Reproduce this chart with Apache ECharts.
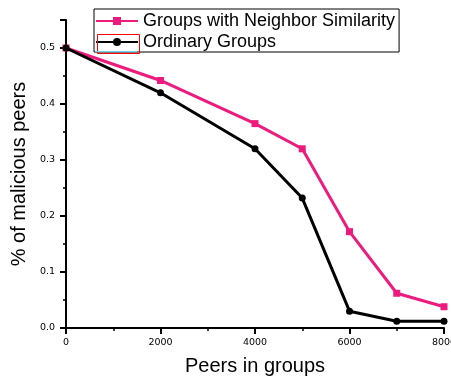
<!DOCTYPE html>
<html><head><meta charset="utf-8">
<script src="https://cdn.jsdelivr.net/npm/echarts@6/dist/echarts.min.js"></script>
<style>html,body{margin:0;padding:0;background:#fff}#c{width:451px;height:379px}</style>
</head><body><div id="c"></div>
<script>
const peers = [0, 2000, 4000, 5000, 6000, 7000, 8000];
const neighborSim = [0.5, 0.442, 0.365, 0.32, 0.172, 0.062, 0.038];
const ordinary = [0.5, 0.42, 0.32, 0.232, 0.03, 0.012, 0.012];
const seriesNames = ['Groups with Neighbor Similarity', 'Ordinary Groups'];
const xTitle = 'Peers in groups';
const yTitle = '% of malicious peers';

const chart = echarts.init(document.getElementById('c'));
const lbl = {color: '#000', fontFamily: 'DejaVu Sans', fontSize: 9.5};
const axisCommon = {
  axisLine: {lineStyle: {color: '#000', width: 2}},
  axisTick: {show: true, inside: false, length: 6, lineStyle: {color: '#000', width: 2}},
  minorTick: {show: true, splitNumber: 2, length: 3, lineStyle: {color: '#000', width: 1.5}},
  splitLine: {show: false},
  minorSplitLine: {show: false}
};
chart.setOption({
  animation: false,
  grid: {left: 66, right: 7, top: 20, bottom: 51, containLabel: false, outerBoundsMode: 'none'},
  legend: {
    orient: 'vertical', left: 94, top: 9, width: 302,
    itemWidth: 42, itemHeight: 10, itemGap: 3,
    borderColor: '#000', borderWidth: 1, padding: [3, 4, 1, 1],
    backgroundColor: '#fff',
    textStyle: {fontFamily: 'Liberation Sans', fontSize: 18, lineHeight: 18, color: '#000', padding: [0, 0, 0, 0]},
    data: seriesNames
  },
  graphic: [
    {type: 'rect', left: 95, top: 32, shape: {width: 42, height: 19}, style: {fill: 'none', stroke: '#ff0000', lineWidth: 1}, z: 100},
    {type: 'line', shape: {x1: 95, y1: 51.5, x2: 137, y2: 51.5}, style: {stroke: '#6cd6e6', lineWidth: 1}, z: 101}
  ],
  xAxis: Object.assign({
    type: 'value', min: 0, max: 8000, interval: 2000,
    name: xTitle, nameLocation: 'middle', nameGap: 28,
    nameTextStyle: {fontFamily: 'Liberation Sans', fontSize: 20, color: '#000'},
    axisLabel: Object.assign({}, lbl, {margin: 10, formatter: v => String(v)})
  }, axisCommon),
  yAxis: Object.assign({
    type: 'value', min: 0, max: 0.55, interval: 0.1,
    name: yTitle, nameLocation: 'middle', nameGap: 37,
    nameTextStyle: {fontFamily: 'Liberation Sans', fontSize: 20, color: '#000'},
    axisLabel: Object.assign({}, lbl, {margin: 11, showMaxLabel: false, formatter: v => v.toFixed(1)})
  }, axisCommon),
  series: [
    {name: seriesNames[0], type: 'line', data: peers.map((p, i) => [p, neighborSim[i]]),
     symbol: 'rect', symbolSize: 7, lineStyle: {color: '#ee1b7f', width: 3}, itemStyle: {color: '#ee1b7f'}, z: 2},
    {name: seriesNames[1], type: 'line', data: peers.map((p, i) => [p, ordinary[i]]),
     symbol: 'circle', symbolSize: 7, lineStyle: {color: '#000', width: 3}, itemStyle: {color: '#000'}, z: 3}
  ]
});
</script></body></html>
